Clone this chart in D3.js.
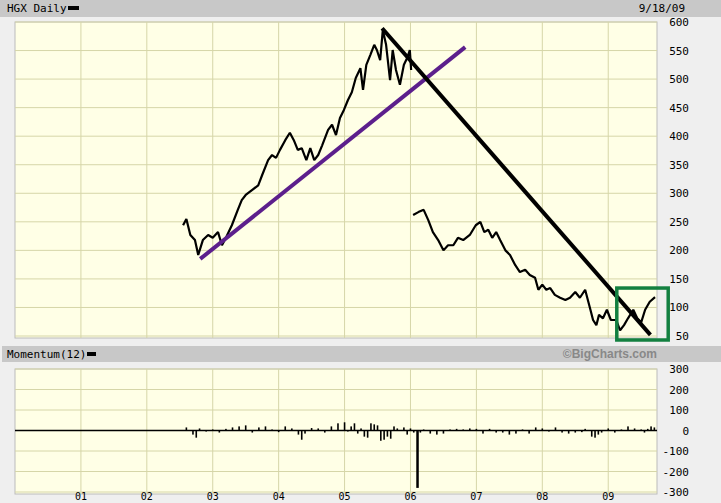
<!DOCTYPE html>
<html><head><meta charset="utf-8">
<script src="https://cdn.jsdelivr.net/npm/d3@7"></script>
<style>body{margin:0;background:#efefef}svg{display:block}text{font-family:"DejaVu Sans Mono",monospace;font-size:11px}</style>
</head><body><svg id="c" width="721" height="503"></svg>
<script>
const yearLabels=["01","02","03","04","05","06","07","08","09"];
const priceTicks=[50,100,150,200,250,300,350,400,450,500,550,600];
const momTicks=[-300,-200,-100,0,100,200,300];
const price1=[[2002.55,244],[2002.6,255],[2002.66,227],[2002.73,218],[2002.78,192],[2002.85,218],[2002.93,227],[2003.0,222],[2003.08,232],[2003.14,209],[2003.2,222],[2003.29,244],[2003.38,271],[2003.44,288],[2003.5,297],[2003.6,306],[2003.69,314],[2003.75,332],[2003.84,358],[2003.9,367],[2003.96,362],[2004.02,376],[2004.1,393],[2004.17,406],[2004.23,393],[2004.29,376],[2004.35,379],[2004.42,358],[2004.48,379],[2004.54,358],[2004.6,367],[2004.66,384],[2004.75,411],[2004.81,420],[2004.87,402],[2004.93,432],[2004.99,446],[2005.05,463],[2005.11,477],[2005.17,502],[2005.24,519],[2005.28,481],[2005.33,525],[2005.39,542],[2005.45,560],[2005.49,551],[2005.54,533],[2005.58,586],[2005.63,560],[2005.69,498],[2005.73,551],[2005.78,516],[2005.84,490],[2005.9,525],[2005.95,537],[2005.99,551],[2006.01,516]];
const price2=[[2006.04,262],[2006.12,267],[2006.2,271],[2006.27,253],[2006.34,232],[2006.42,218],[2006.5,200],[2006.57,209],[2006.65,209],[2006.72,222],[2006.8,218],[2006.9,227],[2006.99,244],[2007.06,250],[2007.12,232],[2007.18,236],[2007.24,222],[2007.3,232],[2007.36,218],[2007.44,200],[2007.51,192],[2007.59,174],[2007.66,162],[2007.74,166],[2007.81,157],[2007.89,152],[2007.94,131],[2008.0,140],[2008.06,131],[2008.12,134],[2008.19,122],[2008.27,117],[2008.35,113],[2008.42,117],[2008.5,127],[2008.57,117],[2008.65,131],[2008.73,96],[2008.77,78],[2008.82,69],[2008.86,87],[2008.92,81],[2008.98,96],[2009.04,78],[2009.12,78],[2009.18,60],[2009.24,69],[2009.3,81],[2009.38,96],[2009.44,81],[2009.5,74],[2009.56,96],[2009.63,110],[2009.71,118]];
const purpleLine=[[2002.81,185],[2006.83,556]];
const blackLine=[[2005.57,589],[2009.64,52]];
const box=[[2009.13,134],[2009.91,43]];
const momentum=[[2002.6,15],[2002.7,-20],[2002.75,-35],[2002.8,10],[2002.9,-5],[2003.0,5],[2003.1,-10],[2003.2,8],[2003.3,15],[2003.4,20],[2003.5,25],[2003.6,-10],[2003.7,15],[2003.8,20],[2003.9,5],[2004.0,-8],[2004.1,20],[2004.2,10],[2004.3,-20],[2004.35,-45],[2004.4,-15],[2004.5,12],[2004.6,10],[2004.7,-10],[2004.8,20],[2004.9,35],[2005.0,40],[2005.05,-5],[2005.1,20],[2005.15,35],[2005.2,-15],[2005.25,10],[2005.3,-30],[2005.35,-35],[2005.4,35],[2005.45,30],[2005.5,25],[2005.55,-50],[2005.6,-45],[2005.65,-30],[2005.7,-40],[2005.75,20],[2005.8,10],[2005.9,15],[2005.95,-20],[2006.0,10],[2006.05,-10],[2006.1,-280],[2006.15,-10],[2006.2,5],[2006.3,-15],[2006.4,-20],[2006.5,-15],[2006.6,5],[2006.7,8],[2006.8,5],[2006.9,10],[2007.0,8],[2007.1,-15],[2007.2,8],[2007.3,-10],[2007.4,-10],[2007.5,-20],[2007.6,-15],[2007.7,5],[2007.8,-15],[2007.9,15],[2008.0,10],[2008.1,-5],[2008.2,15],[2008.3,-10],[2008.4,-15],[2008.5,-10],[2008.6,-8],[2008.65,8],[2008.75,-30],[2008.8,-35],[2008.85,-20],[2008.9,-10],[2009.0,10],[2009.1,-10],[2009.2,5],[2009.3,20],[2009.4,10],[2009.5,5],[2009.55,-10],[2009.6,8],[2009.65,20],[2009.7,15]];

const svg=d3.select("#c");
const x=d3.scaleLinear().domain([2000,2009.74]).range([15,657]);
const y=d3.scaleLinear().domain([50,600]).range([336,22]);
const ym=d3.scaleLinear().domain([-300,300]).range([492,369]);
const grid="#d6d6a8";
svg.append("rect").attr("x",0).attr("y",0).attr("width",721).attr("height",17).attr("fill","#c8c8c8");
svg.append("rect").attr("x",2).attr("y",346).attr("width",719).attr("height",16).attr("fill","#c8c8c8");
svg.append("text").attr("x",7).attr("y",12).text("HGX Daily");
svg.append("rect").attr("x",68).attr("y",6).attr("width",11).attr("height",4).attr("fill","#000");
svg.append("text").attr("x",685).attr("y",12).attr("text-anchor","end").text(d3.timeFormat("%-m/%d/%y")(new Date(2009,8,18)));
svg.append("text").attr("x",7).attr("y",358).text("Momentum(12)");
svg.append("rect").attr("x",87).attr("y",352).attr("width",9).attr("height",4).attr("fill","#000");
svg.append("text").attr("x",657).attr("y",358).attr("text-anchor","end").style("font-family","Liberation Sans,Arial").style("font-weight","bold").style("font-size","12px").attr("fill","#888").text("©BigCharts.com");
function panel(ys,ticks){
  const [b,t]=ys.range();
  svg.append("rect").attr("x",15).attr("y",t).attr("width",642).attr("height",b-t+2).attr("fill","#ffffe6").attr("stroke","#bbb");
  const g=svg.append("g");
  ticks.forEach(v=>g.append("line").attr("x1",15).attr("x2",657).attr("y1",ys(v)).attr("y2",ys(v)).attr("stroke",grid));
  yearLabels.forEach((l,i)=>g.append("line").attr("x1",x(2001+i)).attr("x2",x(2001+i)).attr("y1",t).attr("y2",b+2).attr("stroke",grid));
  ticks.forEach(v=>svg.append("text").attr("x",689).attr("y",ys(v)+4).attr("text-anchor","end").text(String(v)));
}
panel(y,priceTicks);
panel(ym,momTicks);
yearLabels.forEach((l,i)=>svg.append("text").attr("x",x(2001+i)).attr("y",500).attr("text-anchor","middle").style("font-size","10px").text(l));
const line=d3.line().x(d=>x(d[0])).y(d=>y(d[1]));
[price1,price2].forEach(p=>svg.append("path").attr("d",line(p)).attr("fill","none").attr("stroke","#000").attr("stroke-width",2.2).attr("stroke-linejoin","bevel"));
svg.append("path").attr("d",line(purpleLine)).attr("stroke","#5c1f8c").attr("stroke-width",4);
svg.append("path").attr("d",line(blackLine)).attr("stroke","#000").attr("stroke-width",4);
svg.append("rect").attr("x",x(box[0][0])).attr("y",y(box[0][1])).attr("width",x(box[1][0])-x(box[0][0])).attr("height",y(box[1][1])-y(box[0][1])).attr("fill","none").attr("stroke","#138040").attr("stroke-width",3.5);
svg.append("line").attr("x1",15).attr("x2",657).attr("y1",ym(0)).attr("y2",ym(0)).attr("stroke","#000").attr("stroke-width",1.5);
svg.selectAll(".m").data(momentum).join("rect").attr("x",d=>x(d[0])-0.8).attr("width",d=>d[1]<-100?2.5:1.6)
 .attr("y",d=>ym(Math.max(0,d[1]))).attr("height",d=>Math.abs(ym(d[1])-ym(0))).attr("fill","#000");
</script></body></html>
